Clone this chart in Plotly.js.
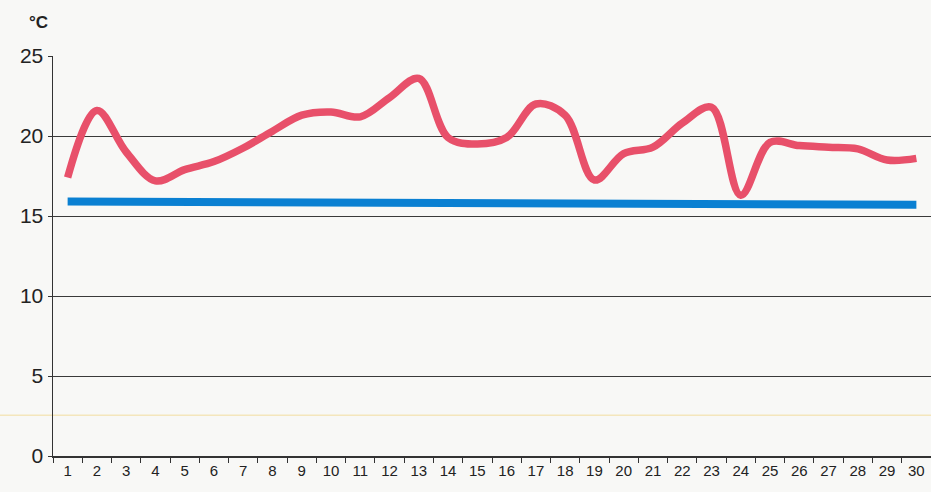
<!DOCTYPE html>
<html>
<head>
<meta charset="utf-8">
<script src="https://cdn.plot.ly/plotly-3.0.1.min.js"></script>
<style>html,body{margin:0;padding:0;background:#f8f8f6;}#chart{width:931px;height:492px;}</style>
</head>
<body>
<div id="chart"></div>
<script>
const days = ['1','2','3','4','5','6','7','8','9','10','11','12','13','14','15','16','17','18','19','20','21','22','23','24','25','26','27','28','29','30'];
const roomTemp = [17.4,21.6,19.0,17.2,17.9,18.4,19.25,20.3,21.3,21.5,21.2,22.4,23.6,19.9,19.5,19.9,22.0,21.3,17.25,18.9,19.3,20.8,21.8,16.3,19.6,19.4,19.3,19.2,18.5,18.6];
const refDays = ['1','30'];
const refTemp = [15.9, 15.7];
const yTicks = [0,5,10,15,20,25];

const traces = [
  {x: days, y: roomTemp, type:'scatter', mode:'lines',
   line:{color:'#e8506a', width:7.5, shape:'spline', smoothing:1}, hoverinfo:'skip'},
  {x: refDays, y: refTemp, type:'scatter', mode:'lines',
   line:{color:'#0a80d2', width:8}, hoverinfo:'skip'}
];

const layout = {
  width:931, height:492,
  margin:{l:53, r:0, t:56, b:36},
  paper_bgcolor:'#f8f8f6', plot_bgcolor:'#f8f8f6',
  showlegend:false,
  font:{family:'Liberation Sans, Arial, sans-serif', color:'#222'},
  xaxis:{type:'category', categoryorder:'array', categoryarray:days,
    range:[-0.5,29.5], showgrid:false, zeroline:false,
    showline:true, linecolor:'#333', linewidth:1.5,
    ticks:'outside', tickson:'boundaries', ticklen:5, tickcolor:'#333',
    tickfont:{size:15, color:'#222'}, fixedrange:true},
  yaxis:{range:[0,25], tickvals:yTicks, ticktext:yTicks.map(String),
    showgrid:true, gridcolor:'#3a3a3a', gridwidth:1, zeroline:false,
    showline:true, linecolor:'#333', linewidth:1.5,
    ticks:'outside', ticklen:4, tickcolor:'#333',
    tickfont:{size:21, color:'#222'}, fixedrange:true},
  annotations:[
    {text:'<b>°C</b>', xref:'paper', yref:'paper', x:-0.017, y:1.085,
     xanchor:'center', yanchor:'middle', showarrow:false,
     font:{size:17, color:'#222'}}
  ],
  shapes:[
    {type:'line', xref:'paper', yref:'y', x0:-0.07, x1:1, y0:2.55, y1:2.55,
     line:{color:'rgba(240,215,140,0.55)', width:1.5}, layer:'below'}
  ]
};

Plotly.newPlot('chart', traces, layout, {displayModeBar:false, staticPlot:true});
</script>
</body>
</html>
